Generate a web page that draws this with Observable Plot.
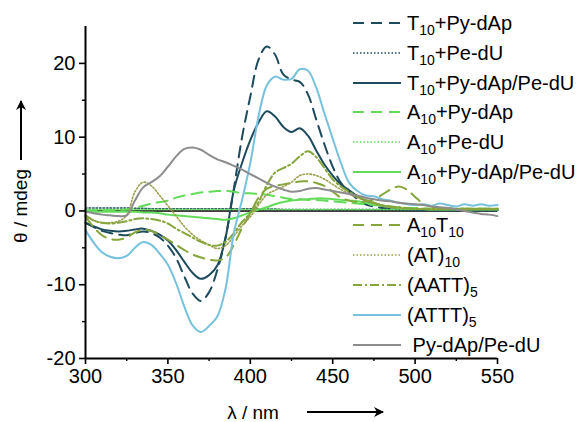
<!DOCTYPE html>
<html>
<head>
<meta charset="utf-8">
<script src="https://cdn.jsdelivr.net/npm/d3@7"></script>
<script src="https://cdn.jsdelivr.net/npm/@observablehq/plot@0.6"></script>
<style>
  html, body { margin: 0; padding: 0; background: #fff; }
  #wrap { position: relative; width: 580px; height: 422px; font-family: "Liberation Sans", Arial, sans-serif; }
  #wrap > svg { position: absolute; left: 0; top: 0; }
</style>
</head>
<body>
<div id="wrap"></div>
<script>
// Wavelength grid (nm)
const wavelengths = [300,305,310,315,320,325,330,335,340,345,350,355,360,365,370,375,380,385,390,395,400,405,410,415,420,425,430,435,440,445,450,455,460,465,470,475,480,485,490,495,500,505,510,515,520,525,530,535,540,545,550];

// CD signals (mdeg)
const t10PyDAp = [-1.6,-2.2,-2.7,-3.0,-3.2,-3.3,-3.0,-2.8,-3.0,-3.6,-4.7,-6.4,-8.9,-11.2,-12.2,-11.0,-8.0,-3.6,3.0,10.0,15.5,20.5,22.3,21.2,18.5,17.8,17.5,15.8,12.4,9.0,6.0,3.8,2.6,1.6,0.9,0.6,0.4,0.3,0.2,0.15,0.1,0.1,0.1,0.1,0.1,0.1,0.1,0.1,0.1,0.1,0.1];
const t10PeDU = [0.4,0.4,0.4,0.4,0.4,0.4,0.35,0.35,0.3,0.3,0.3,0.3,0.3,0.3,0.3,0.3,0.3,0.3,0.3,0.3,0.3,0.25,0.25,0.25,0.2,0.2,0.2,0.2,0.2,0.2,0.2,0.2,0.2,0.2,0.2,0.2,0.2,0.2,0.2,0.2,0.2,0.2,0.2,0.2,0.2,0.2,0.2,0.2,0.2,0.2,0.2];
const t10PyDApPeDU = [-1.6,-2.1,-2.5,-2.7,-2.8,-2.7,-2.5,-2.4,-2.7,-3.2,-4.0,-5.3,-6.9,-8.4,-9.2,-8.7,-7.4,-3.6,2.8,6.5,9.6,12.0,13.5,12.8,11.4,10.7,11.2,10.2,8.2,6.3,4.8,3.6,2.8,2.0,1.4,1.0,0.7,0.5,0.3,0.2,0.2,0.15,0.15,0.1,0.1,0.1,0.1,0.1,0.1,0.1,0.1];
const a10PyDAp = [0.0,0.1,0.1,0.1,0.1,0.2,0.4,0.7,1.0,1.2,1.4,1.8,2.1,2.3,2.5,2.6,2.7,2.7,2.6,2.4,2.4,2.3,2.2,2.0,1.8,1.6,1.6,1.5,1.5,1.4,1.3,1.2,1.1,1.0,0.9,0.8,0.7,0.6,0.5,0.4,0.4,0.35,0.3,0.3,0.3,0.3,0.3,0.3,0.3,0.3,0.3];
const a10PeDU = [0.2,0.2,0.2,0.2,0.2,0.2,0.2,0.2,0.2,0.2,0.2,0.2,0.2,0.2,0.2,0.2,0.2,0.2,0.2,0.2,0.2,0.2,0.2,0.2,0.2,0.2,0.2,0.2,0.2,0.2,0.2,0.2,0.2,0.2,0.2,0.2,0.2,0.2,0.2,0.2,0.2,0.2,0.2,0.2,0.2,0.2,0.2,0.2,0.2,0.2,0.2];
const a10PyDApPeDU = [0.0,-0.1,-0.1,-0.1,-0.1,-0.1,-0.1,-0.2,-0.2,-0.3,-0.5,-0.6,-0.7,-0.8,-0.9,-1.0,-1.1,-1.2,-1.0,-0.6,-0.2,0.2,0.5,0.9,1.2,1.4,1.5,1.6,1.7,1.7,1.6,1.5,1.4,1.3,1.1,0.9,0.7,0.5,0.4,0.3,0.3,0.25,0.2,0.2,0.2,0.2,0.2,0.2,0.2,0.2,0.2];
const a10T10 = [-0.8,-2.2,-3.3,-3.8,-3.9,-3.6,-2.9,-2.6,-2.7,-3.3,-3.9,-4.6,-5.3,-5.9,-6.3,-6.6,-6.7,-6.3,-4.6,-2.3,-0.3,1.8,3.0,3.4,3.6,3.8,4.0,4.0,3.8,3.4,2.6,1.8,1.4,1.2,1.3,1.6,2.2,2.9,3.3,2.9,1.9,1.0,0.6,0.4,0.3,0.3,0.3,0.3,0.3,0.3,0.3];
const at10 = [-0.6,-1.3,-1.6,-1.6,-1.4,-0.6,2.6,3.9,3.4,2.1,0.7,-0.7,-2.1,-3.2,-4.0,-4.6,-5.1,-4.7,-3.4,-2.0,-0.8,0.8,2.2,2.8,3.3,3.9,4.8,5.0,4.8,4.3,3.6,2.9,2.3,1.8,1.4,1.0,0.7,0.5,0.4,0.3,0.3,0.25,0.2,0.2,0.2,0.2,0.2,0.2,0.2,0.2,0.2];
const aatt5 = [-0.6,-1.3,-1.6,-1.7,-1.6,-1.4,-1.1,-1.0,-1.1,-1.3,-1.7,-2.4,-3.0,-3.6,-4.2,-4.6,-4.7,-4.2,-3.0,-1.5,-0.3,1.2,3.5,5.2,5.8,6.4,7.4,8.1,7.3,5.8,4.3,3.3,2.6,2.0,1.5,1.1,0.8,0.6,0.5,0.4,0.3,0.3,0.3,0.3,0.3,0.3,0.3,0.3,0.3,0.3,0.3];
const attt5 = [-2.6,-4.3,-5.6,-6.2,-6.4,-6.1,-5.0,-4.2,-4.6,-5.8,-7.3,-9.8,-13.0,-15.5,-16.4,-15.6,-14.3,-10.5,-3.0,1.5,6.5,12.8,17.0,18.2,17.8,17.9,19.2,19.0,16.7,13.2,9.8,6.5,3.8,2.7,2.1,2.0,1.6,1.4,1.1,0.9,0.8,0.9,0.7,1.0,0.8,0.6,0.9,0.7,0.9,0.7,0.8];
const pyDApPeDU = [-0.1,-0.3,-0.5,-0.6,-0.7,-0.6,1.4,3.2,3.9,4.7,6.0,7.4,8.4,8.6,8.3,7.6,7.0,6.6,6.1,5.6,5.0,4.4,3.8,3.3,2.9,2.6,2.7,3.0,3.1,2.9,2.7,2.5,2.3,2.1,1.8,1.6,1.4,1.3,1.1,1.0,0.9,0.8,0.6,0.5,0.4,0.2,0.0,-0.2,-0.4,-0.5,-0.7];

// Axis ticks
const xMajor = [300,350,400,450,500,550];
const xMinor = [325,375,425,475,525];
const yMajor = [-20,-10,0,10,20];
const yMinor = [-15,-5,5,15];

const darkTeal = "#1c4b5c", green = "#62dc58", olive = "#86a53a", oliveDot = "#9c9f4c", blue = "#76c2de", gray = "#8c8c8c";

const series = [
  {key:"T10+Py-dAp", parts:[["T",""],["10","sub"],["+Py-dAp",""]], values:t10PyDAp, color:darkTeal, dash:"11,7", w:2},
  {key:"T10+Pe-dU", parts:[["T",""],["10","sub"],["+Pe-dU",""]], values:t10PeDU, color:darkTeal, dash:"1.5,2", w:1.6},
  {key:"T10+Py-dAp/Pe-dU", parts:[["T",""],["10","sub"],["+Py-dAp/Pe-dU",""]], values:t10PyDApPeDU, color:darkTeal, dash:null, w:2},
  {key:"A10+Py-dAp", parts:[["A",""],["10","sub"],["+Py-dAp",""]], values:a10PyDAp, color:green, dash:"11,7", w:2},
  {key:"A10+Pe-dU", parts:[["A",""],["10","sub"],["+Pe-dU",""]], values:a10PeDU, color:green, dash:"1.5,2", w:1.6},
  {key:"A10+Py-dAp/Pe-dU", parts:[["A",""],["10","sub"],["+Py-dAp/Pe-dU",""]], values:a10PyDApPeDU, color:green, dash:null, w:2},
  {key:"A10T10", parts:[["A",""],["10","sub"],["T",""],["10","sub"]], values:a10T10, color:olive, dash:"11,7", w:2},
  {key:"(AT)10", parts:[["(AT)",""],["10","sub"]], values:at10, color:oliveDot, dash:"1.5,2", w:1.6},
  {key:"(AATT)5", parts:[["(AATT)",""],["5","sub"]], values:aatt5, color:olive, dash:"9,3,2,3", w:2},
  {key:"(ATTT)5", parts:[["(ATTT)",""],["5","sub"]], values:attt5, color:blue, dash:null, w:2},
  {key:"Py-dAp/Pe-dU", parts:[[" Py-dAp/Pe-dU",""]], values:pyDApPeDU, color:gray, dash:null, w:2}
];

const lineMarks = series.map(s => Plot.line(
  wavelengths.map((x, i) => ({x, y: s.values[i]})),
  {x: "x", y: "y", stroke: s.color, strokeWidth: s.w, strokeDasharray: s.dash ?? undefined, curve: "catmull-rom"}
));

const chart = Plot.plot({
  width: 580,
  height: 422,
  marginLeft: 85,
  marginRight: 83,
  marginTop: 26,
  marginBottom: 64,
  style: {fontFamily: "'Liberation Sans', Arial, sans-serif", fontSize: "20px", color: "#000", background: "transparent"},
  x: {domain: [300, 550], label: null},
  y: {domain: [-20, 25], label: null},
  marks: [
    Plot.ruleY([0], {stroke: "#000", strokeWidth: 1.5}),
    ...lineMarks,
    Plot.axisX({ticks: xMajor, tickSize: 6, tickPadding: 4, strokeWidth: 1.6, tickFormat: d => String(d), fontSize: 20, label: null}),
    Plot.axisX({ticks: xMinor, tickSize: 3, strokeWidth: 1.4, tickFormat: () => "", label: null}),
    Plot.axisY({ticks: yMajor, tickSize: 6, tickPadding: 4, strokeWidth: 1.6, tickFormat: d => String(d), fontSize: 20, label: null}),
    Plot.axisY({ticks: yMinor, tickSize: 3, strokeWidth: 1.4, tickFormat: () => "", label: null}),
    Plot.ruleX([300], {stroke: "#000", strokeWidth: 2}),
    Plot.ruleY([-20], {stroke: "#000", strokeWidth: 2})
  ]
});

const wrap = document.getElementById("wrap");
wrap.appendChild(chart);

const NS = "http://www.w3.org/2000/svg";
const ov = document.createElementNS(NS, "svg");
ov.setAttribute("width", 580); ov.setAttribute("height", 422);
ov.setAttribute("font-family", "'Liberation Sans', Arial, sans-serif");
ov.innerHTML = `<defs><marker id="ah" viewBox="0 0 10 10" refX="9" refY="5" markerWidth="5" markerHeight="5" orient="auto-start-reverse"><path d="M0,0 L10,5 L0,10 L3,5 z" fill="#000"/></marker></defs>`;
wrap.appendChild(ov);

const rowsY = [23,53,83,112,142,172,225,255,285,315,345];
series.forEach((s, i) => {
  const y = rowsY[i];
  const ln = document.createElementNS(NS, "line");
  ln.setAttribute("x1", 353); ln.setAttribute("x2", 401);
  ln.setAttribute("y1", y); ln.setAttribute("y2", y);
  ln.setAttribute("stroke", s.color); ln.setAttribute("stroke-width", s.w);
  if (s.dash) ln.setAttribute("stroke-dasharray", s.dash);
  ov.appendChild(ln);
  const t = document.createElementNS(NS, "text");
  t.setAttribute("x", 407); t.setAttribute("y", y + 7);
  t.setAttribute("font-size", 20); t.setAttribute("fill", "#000");
  t.style.whiteSpace = "pre";
  let shifted = false;
  s.parts.forEach(([txt, kind]) => {
    const sp = document.createElementNS(NS, "tspan");
    sp.textContent = txt;
    if (kind === "sub") { sp.setAttribute("font-size", 14); sp.setAttribute("dy", 5); shifted = true; }
    else if (shifted) { sp.setAttribute("dy", -5); shifted = false; }
    t.appendChild(sp);
  });
  ov.appendChild(t);
});

const yt = document.createElementNS(NS, "text");
yt.setAttribute("transform", "translate(27,206) rotate(-90)");
yt.setAttribute("text-anchor", "middle"); yt.setAttribute("font-size", 19);
yt.textContent = "θ / mdeg";
ov.appendChild(yt);
const ya = document.createElementNS(NS, "line");
ya.setAttribute("x1", 21); ya.setAttribute("x2", 21); ya.setAttribute("y1", 160); ya.setAttribute("y2", 101);
ya.setAttribute("stroke", "#000"); ya.setAttribute("stroke-width", 2); ya.setAttribute("marker-end", "url(#ah)");
ov.appendChild(ya);

const xt = document.createElementNS(NS, "text");
xt.setAttribute("x", 253); xt.setAttribute("y", 419);
xt.setAttribute("text-anchor", "middle"); xt.setAttribute("font-size", 19);
xt.textContent = "λ / nm";
ov.appendChild(xt);
const xa = document.createElementNS(NS, "line");
xa.setAttribute("x1", 307); xa.setAttribute("x2", 383); xa.setAttribute("y1", 412); xa.setAttribute("y2", 412);
xa.setAttribute("stroke", "#000"); xa.setAttribute("stroke-width", 2); xa.setAttribute("marker-end", "url(#ah)");
ov.appendChild(xa);
</script>
</body>
</html>
